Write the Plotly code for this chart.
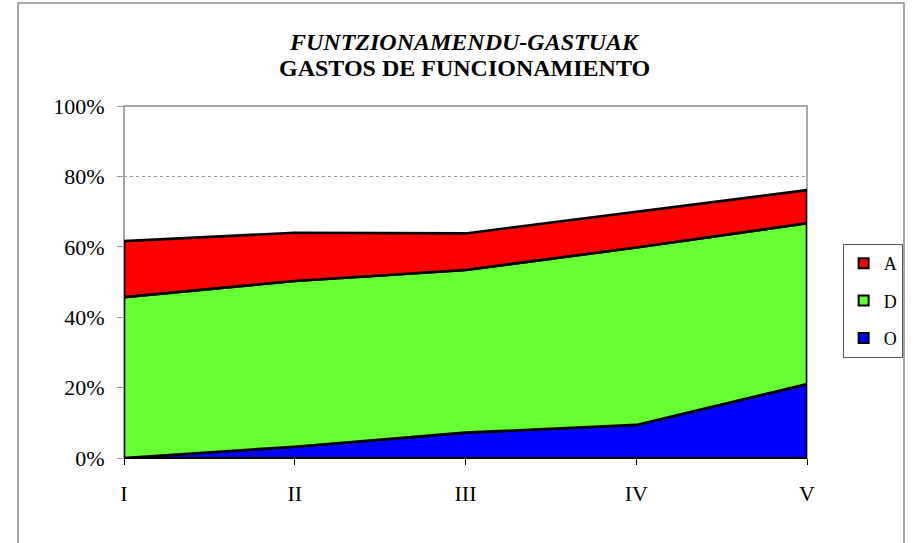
import plotly.graph_objects as go

# Categories and series values (percent)
categories = ["I", "II", "III", "IV", "V"]
series_names = ["O", "D", "A"]
values_O = [0.0, 3.2, 7.2, 9.4, 21.0]
values_D = [45.7, 47.1, 46.2, 50.4, 45.7]
values_A = [15.9, 13.7, 10.4, 10.1, 9.4]
colors = {"O": "#0000FF", "D": "#66FF33", "A": "#FF0000"}
y_ticks = [0, 20, 40, 60, 80, 100]
title_line1 = "FUNTZIONAMENDU-GASTUAK"
title_line2 = "GASTOS DE FUNCIONAMIENTO"

series = {"O": values_O, "D": values_D, "A": values_A}
xs = list(range(len(categories)))

fig = go.Figure()

# Stacked areas drawn as closed polygons so every edge gets the black outline
lower = [0.0] * len(categories)
for name in series_names:
    upper = [lo + v for lo, v in zip(lower, series[name])]
    px = xs + xs[::-1] + [xs[0]]
    py = upper + lower[::-1] + [upper[0]]
    fig.add_trace(go.Scatter(
        x=px, y=py, mode="lines", fill="toself",
        fillcolor=colors[name],
        line=dict(color="black", width=2.6),
        showlegend=False, hoverinfo="skip",
    ))
    lower = upper

# Legend entries: small squares with black border
for name in ["A", "D", "O"]:
    fig.add_trace(go.Scatter(
        x=[None], y=[None], mode="markers", name=name,
        legendgroup=name,
        marker=dict(symbol="square", size=10, color=colors[name],
                    line=dict(color="black", width=2)),
    ))

serif = "Liberation Serif"

# plot area spans x 124..814, y 106..458 in pixels
def py_paper(pix):
    return (458 - pix) / 352

def px_paper(pix):
    return (pix - 124) / 690

fig.update_layout(
    width=915, height=543,
    margin=dict(l=124, r=101, t=106, b=85),
    paper_bgcolor="white", plot_bgcolor="white",
    font=dict(family=serif, color="black", size=22),
    annotations=[
        dict(text=f"<b><i>{title_line1}</i></b>", xref="paper", yref="paper",
             x=px_paper(468), y=py_paper(42.5), xanchor="center", yanchor="middle",
             showarrow=False, font=dict(family=serif, size=24, color="black")),
        dict(text=f"<b>{title_line2}</b>", xref="paper", yref="paper",
             x=px_paper(468), y=py_paper(67.5), xanchor="center", yanchor="middle",
             showarrow=False, font=dict(family=serif, size=24, color="black")),
    ],
    xaxis=dict(
        range=[0, len(categories) - 1],
        tickmode="array", tickvals=xs, ticktext=categories,
        showgrid=False, zeroline=False,
        showline=True, linecolor="black", linewidth=1,
        ticks="outside", ticklen=6, tickcolor="black",
        ticklabelstandoff=10,
        tickfont=dict(family=serif, size=22),
        fixedrange=True,
    ),
    yaxis=dict(
        range=[0, 100],
        tickmode="array", tickvals=y_ticks,
        ticktext=[f"{v}%" for v in y_ticks],
        showgrid=True, gridcolor="#9a9a9a", griddash="dot", gridwidth=1,
        zeroline=False, showline=False,
        ticks="outside", ticklen=6, tickcolor="#9a9a9a",
        ticklabelstandoff=8,
        tickfont=dict(family=serif, size=22),
        fixedrange=True,
    ),
    legend=dict(
        x=px_paper(850), xanchor="left",
        y=py_paper(244), yanchor="top",
        bgcolor="white", bordercolor="#555555", borderwidth=1,
        font=dict(family=serif, size=18, color="black"),
        tracegroupgap=11, itemwidth=30,
    ),
    shapes=[
        # plot area frame
        dict(type="rect", xref="paper", yref="paper", x0=0, x1=1, y0=0, y1=1,
             line=dict(color="#8a8a8a", width=1.5), layer="below"),
        # outer chart frame
        dict(type="rect", xref="paper", yref="paper",
             x0=px_paper(17), x1=px_paper(912),
             y0=py_paper(560), y1=py_paper(3),
             line=dict(color="#8a8a8a", width=1.5), layer="below"),
    ],
)

fig.write_html("out.html")
